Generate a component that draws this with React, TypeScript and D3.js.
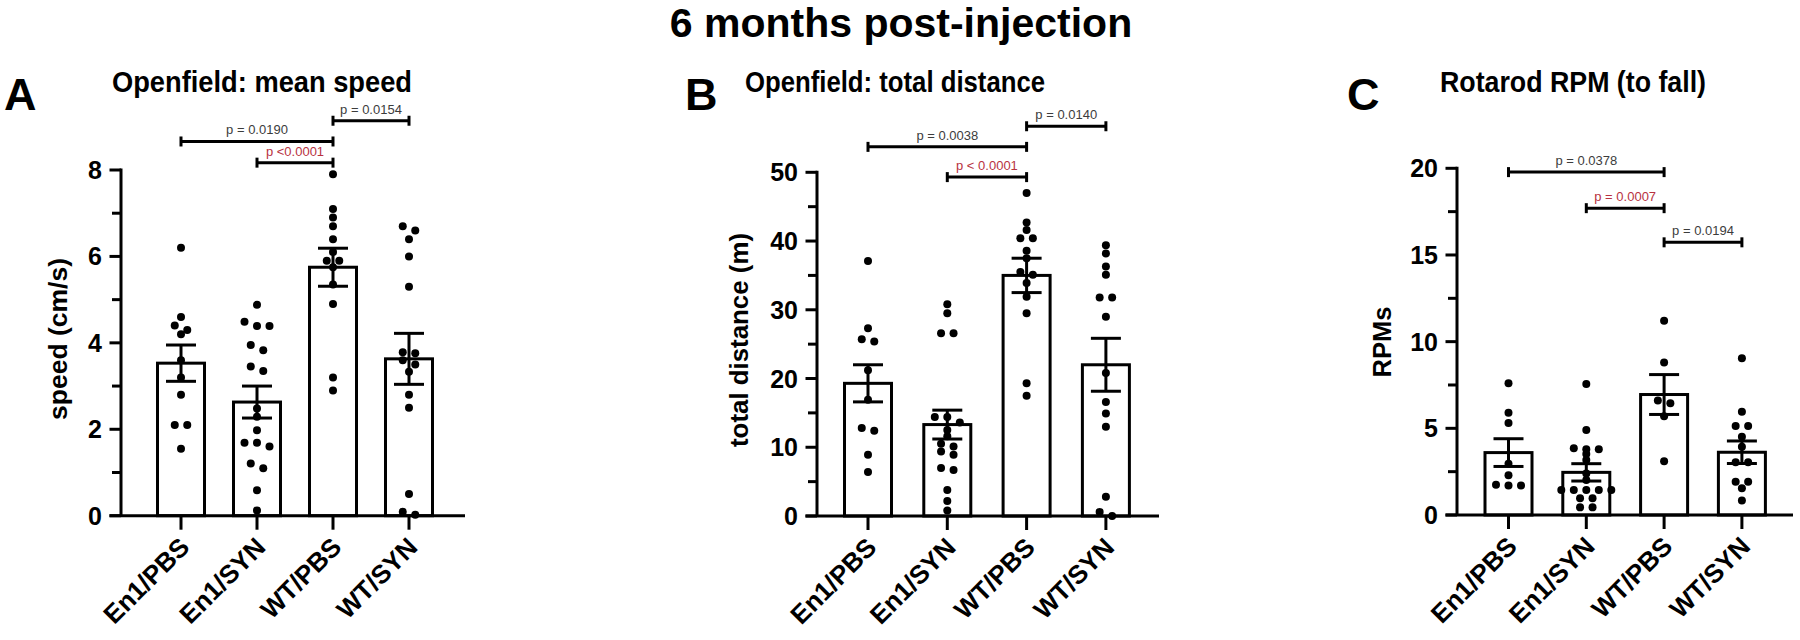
import React from "react";
import * as d3 from "d3";

// ---------- data ----------
const CATEGORIES = ["En1/PBS", "En1/SYN", "WT/PBS", "WT/SYN"];

// Panel A: Openfield mean speed (cm/s)
const speedEn1PBS = [6.2, 4.6, 4.4, 4.3, 4.2, 3.6, 3.2, 2.8, 2.1, 2.1, 1.55];
const speedEn1SYN = [4.88, 4.49, 4.39, 4.39, 3.95, 3.83, 3.45, 3.35, 2.48, 2.29, 1.98, 1.69, 1.69, 1.6, 1.21, 1.1, 0.59, 0.12];
const speedWTPBS = [7.9, 7.1, 6.9, 6.7, 6.4, 6.1, 5.9, 5.9, 5.75, 5.35, 4.9, 3.2, 2.9];
const speedWTSYN = [6.7, 6.6, 6.4, 6.0, 5.3, 3.78, 3.76, 3.6, 3.5, 3.33, 2.8, 2.5, 0.5, 0.09, 0.02];
const speedMean = [3.53, 2.63, 5.75, 3.63];
const speedSem = [0.42, 0.37, 0.44, 0.59];
const speedTicks = [0, 2, 4, 6, 8];
const speedBrFrom = [0, 1, 2];
const speedBrTo = [2, 2, 3];
const speedBrLevel = [8.66, 8.17, 9.14];
const speedBrText = ["p = 0.0190", "p <0.0001", "p = 0.0154"];
const speedBrRed = [false, true, false];

// Panel B: Openfield total distance (m)
const distEn1PBS = [37.1, 27.3, 25.7, 25.4, 21.2, 16.9, 12.8, 12.4, 8.9, 6.4];
const distEn1SYN = [30.8, 29.5, 26.6, 26.6, 14.4, 14.4, 13.6, 12.5, 11.6, 10.5, 10.1, 9.4, 8.9, 7.0, 6.7, 3.8, 2.2, 0.8];
const distWTPBS = [47.0, 42.7, 41.6, 40.4, 40.4, 38.6, 37.5, 35.5, 35.1, 33.9, 31.9, 29.5, 19.3, 17.5];
const distWTSYN = [39.4, 38.2, 36.3, 35.1, 31.8, 31.8, 29.0, 20.8, 16.6, 14.9, 13.0, 2.8, 0.6, 0.0];
const distMean = [19.3, 13.3, 35.0, 22.0];
const distSem = [2.7, 2.1, 2.5, 3.85];
const distTicks = [0, 10, 20, 30, 40, 50];
const distBrFrom = [0, 1, 2];
const distBrTo = [2, 2, 3];
const distBrLevel = [53.7, 49.3, 56.7];
const distBrText = ["p = 0.0038", "p < 0.0001", "p = 0.0140"];
const distBrRed = [false, true, false];

// Panel C: Rotarod RPM (to fall)
const rpmEn1PBS = [7.6, 5.9, 5.3, 2.95, 2.3, 1.75, 1.7, 1.7];
const rpmEn1SYN = [7.56, 4.9, 3.85, 3.8, 3.8, 3.52, 3.17, 2.4, 2.02, 1.44, 1.44, 1.44, 1.44, 1.44, 0.96, 0.96, 0.44, 0.44];
const rpmWTPBS = [11.2, 8.8, 6.6, 6.45, 5.7, 3.1];
const rpmWTSYN = [9.04, 5.96, 5.13, 5.13, 4.52, 3.94, 3.04, 3.04, 1.92, 1.92, 1.54, 0.83];
const rpmMean = [3.6, 2.46, 6.95, 3.62];
const rpmSem = [0.8, 0.5, 1.15, 0.65];
const rpmTicks = [0, 5, 10, 15, 20];
const rpmBrFrom = [0, 1, 2];
const rpmBrTo = [2, 2, 3];
const rpmBrLevel = [19.78, 17.7, 15.73];
const rpmBrText = ["p = 0.0378", "p = 0.0007", "p = 0.0194"];
const rpmBrRed = [false, true, false];

const MAIN_TITLE = "6 months post-injection";

// ---------- layout ----------
const FONT = "'Liberation Sans', Arial, Helvetica, sans-serif";
const RED = "#b8323f";
const GREY = "#3c3c3c";

type Cfg = {
  letter: string; title: string; yLabel: string;
  axisX: number; firstCenter: number; step: number; xAxisEnd: number;
  yZero: number; yTop: number; max: number;
  titleX: number; titleLen: number; letterX: number; letterY: number;
  yLabelX: number; yLabelY: number; yLabelLen: number;
};

const cfgA: Cfg = {
  letter: "A", title: "Openfield: mean speed", yLabel: "speed (cm/s)",
  axisX: 121, firstCenter: 181, step: 76, xAxisEnd: 465,
  yZero: 515.7, yTop: 170, max: 8,
  titleX: 262, titleLen: 300, letterX: 4, letterY: 110,
  yLabelX: 67, yLabelY: 339, yLabelLen: 162,
};
const cfgB: Cfg = {
  letter: "B", title: "Openfield: total distance", yLabel: "total distance (m)",
  axisX: 817, firstCenter: 868, step: 79.3, xAxisEnd: 1159,
  yZero: 516, yTop: 172.3, max: 50,
  titleX: 895, titleLen: 300, letterX: 685, letterY: 110,
  yLabelX: 748, yLabelY: 340, yLabelLen: 214,
};
const cfgC: Cfg = {
  letter: "C", title: "Rotarod RPM (to fall)", yLabel: "RPMs",
  axisX: 1457, firstCenter: 1508.5, step: 77.8, xAxisEnd: 1793,
  yZero: 515, yTop: 168.3, max: 20,
  titleX: 1573, titleLen: 266, letterX: 1347, letterY: 110,
  yLabelX: 1391, yLabelY: 342, yLabelLen: 71,
};

function layoutDots(values: number[], y: (v: number) => number, step: number, thresh: number) {
  const pts = values.map((v) => ({ v, py: y(v) })).sort((a, b) => a.py - b.py);
  const out: { py: number; dx: number }[] = [];
  let row: { v: number; py: number }[] = [];
  const flush = () => {
    const n = row.length;
    row.forEach((p, i) => out.push({ py: p.py, dx: (i - (n - 1) / 2) * step }));
    row = [];
  };
  for (const p of pts) {
    if (row.length && Math.abs(p.py - row[0].py) > thresh) flush();
    row.push(p);
  }
  flush();
  return out;
}

type PanelProps = {
  cfg: Cfg; groups: number[][]; means: number[]; sems: number[]; ticks: number[];
  brFrom: number[]; brTo: number[]; brLevel: number[]; brText: string[]; brRed: boolean[];
};

function Panel({ cfg, groups, means, sems, ticks, brFrom, brTo, brLevel, brText, brRed }: PanelProps) {
  const y = d3.scaleLinear().domain([0, cfg.max]).range([cfg.yZero, cfg.yTop]);
  const x = d3
    .scalePoint<string>()
    .domain(CATEGORIES)
    .range([cfg.firstCenter, cfg.firstCenter + (CATEGORIES.length - 1) * cfg.step]);
  const majorStep = ticks[1] - ticks[0];
  const minors = d3.range(majorStep / 2, cfg.max, majorStep);
  const barW = 47;
  const sw = 3;
  return (
    <g fontFamily={FONT}>
      <text x={cfg.letterX} y={cfg.letterY} fontSize={45} fontWeight="bold">{cfg.letter}</text>
      <text x={cfg.titleX} y={92} fontSize={29} fontWeight="bold" textAnchor="middle"
        textLength={cfg.titleLen} lengthAdjust="spacingAndGlyphs">{cfg.title}</text>
      <text transform={`translate(${cfg.yLabelX},${cfg.yLabelY}) rotate(-90)`} fontSize={25}
        fontWeight="bold" textAnchor="middle" textLength={cfg.yLabelLen} lengthAdjust="spacingAndGlyphs">{cfg.yLabel}</text>

      {/* bars */}
      {CATEGORIES.map((c, i) => (
        <rect key={"bar" + c} x={(x(c) as number) - barW / 2} y={y(means[i])} width={barW}
          height={cfg.yZero - y(means[i])} fill="#fff" stroke="#000" strokeWidth={sw} />
      ))}

      {/* dots */}
      {CATEGORIES.map((c, i) =>
        layoutDots(groups[i], y, 12.5, 5.5).map((p, j) => (
          <circle key={c + j} cx={(x(c) as number) + p.dx} cy={p.py} r={4} fill="#000" />
        ))
      )}

      {/* error bars */}
      {CATEGORIES.map((c, i) => {
        const cx = x(c) as number;
        const top = y(means[i] + sems[i]);
        const bot = y(means[i] - sems[i]);
        return (
          <g key={"err" + c} stroke="#000" strokeWidth={sw}>
            <line x1={cx} x2={cx} y1={top} y2={bot} />
            <line x1={cx - 15} x2={cx + 15} y1={top} y2={top} />
            <line x1={cx - 15} x2={cx + 15} y1={bot} y2={bot} />
          </g>
        );
      })}

      {/* axes */}
      <g stroke="#000" strokeWidth={sw}>
        <line x1={cfg.axisX} x2={cfg.axisX} y1={y(cfg.max) - 1.5} y2={cfg.yZero} />
        <line x1={cfg.axisX - 11.5} x2={cfg.xAxisEnd} y1={cfg.yZero} y2={cfg.yZero} />
        {ticks.map((t) => (
          <line key={"mt" + t} x1={cfg.axisX - 11.5} x2={cfg.axisX} y1={y(t)} y2={y(t)} />
        ))}
        {minors.map((t) => (
          <line key={"mn" + t} x1={cfg.axisX - 9} x2={cfg.axisX} y1={y(t)} y2={y(t)} />
        ))}
        {CATEGORIES.map((c) => (
          <line key={"xt" + c} x1={x(c) as number} x2={x(c) as number} y1={cfg.yZero} y2={cfg.yZero + 14} />
        ))}
      </g>
      {ticks.map((t) => (
        <text key={"tl" + t} x={cfg.axisX - 19} y={y(t)} dy="0.36em" textAnchor="end" fontSize={25}
          fontWeight="bold">{t}</text>
      ))}
      {CATEGORIES.map((c) => (
        <text key={"cl" + c} transform={`translate(${(x(c) as number) + 10},${cfg.yZero + 33}) rotate(-45)`}
          textAnchor="end" fontSize={26} fontWeight="bold">{c}</text>
      ))}

      {/* significance brackets */}
      {brFrom.map((f, k) => {
        const x1 = x(CATEGORIES[f]) as number;
        const x2 = x(CATEGORIES[brTo[k]]) as number;
        const yy = y(brLevel[k]);
        return (
          <g key={"br" + k}>
            <g stroke="#000" strokeWidth={sw}>
              <line x1={x1} x2={x2} y1={yy} y2={yy} />
              <line x1={x1} x2={x1} y1={yy - 5} y2={yy + 5} />
              <line x1={x2} x2={x2} y1={yy - 5} y2={yy + 5} />
            </g>
            <text x={(x1 + x2) / 2} y={yy - 7} textAnchor="middle" fontSize={13}
              fill={brRed[k] ? RED : GREY}>{brText[k]}</text>
          </g>
        );
      })}
    </g>
  );
}

export default function App() {
  return (
    <svg width={1800} height={640} viewBox="0 0 1800 640"
      style={{ position: "absolute", left: 0, top: 0, background: "#fff" }}>
      <rect width={1800} height={640} fill="#fff" />
      <text x={901} y={37} fontFamily={FONT} fontSize={41} fontWeight="bold" textAnchor="middle">{MAIN_TITLE}</text>
      <Panel cfg={cfgA} groups={[speedEn1PBS, speedEn1SYN, speedWTPBS, speedWTSYN]} means={speedMean}
        sems={speedSem} ticks={speedTicks} brFrom={speedBrFrom} brTo={speedBrTo} brLevel={speedBrLevel}
        brText={speedBrText} brRed={speedBrRed} />
      <Panel cfg={cfgB} groups={[distEn1PBS, distEn1SYN, distWTPBS, distWTSYN]} means={distMean}
        sems={distSem} ticks={distTicks} brFrom={distBrFrom} brTo={distBrTo} brLevel={distBrLevel}
        brText={distBrText} brRed={distBrRed} />
      <Panel cfg={cfgC} groups={[rpmEn1PBS, rpmEn1SYN, rpmWTPBS, rpmWTSYN]} means={rpmMean}
        sems={rpmSem} ticks={rpmTicks} brFrom={rpmBrFrom} brTo={rpmBrTo} brLevel={rpmBrLevel}
        brText={rpmBrText} brRed={rpmBrRed} />
    </svg>
  );
}
